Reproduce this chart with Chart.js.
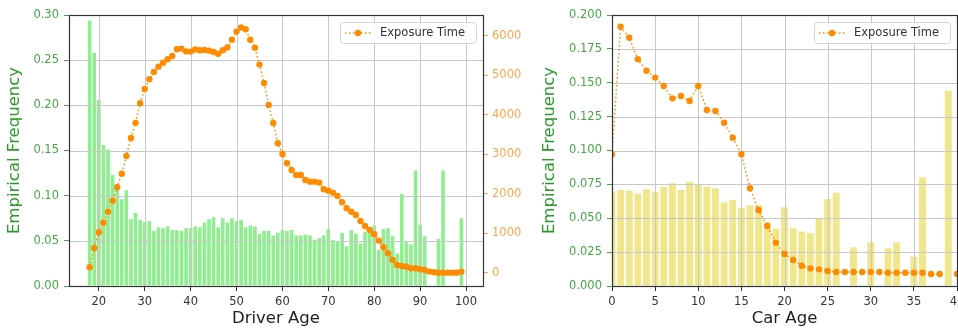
<!DOCTYPE html>
<html>
<head>
<meta charset="utf-8">
<script src="https://cdn.jsdelivr.net/npm/chart.js@4.4.1/dist/chart.umd.min.js"></script>
<style>
  html, body { margin: 0; padding: 0; background: #fff; }
  body { width: 958px; height: 329px; position: relative; overflow: hidden; }
  canvas { position: absolute; top: 0; }
  #driver { left: 0; }
  #car { left: 530px; }
</style>
</head>
<body>
<canvas id="driver" width="530" height="329"></canvas>
<canvas id="car" width="480" height="329"></canvas>
<script>
// Driver age: claim frequency (bars) and exposure time (dotted line, right axis)
const driverAges = [18, 19, 20, 21, 22, 23, 24, 25, 26, 27, 28, 29, 30, 31, 32, 33, 34, 35, 36, 37,
  38, 39, 40, 41, 42, 43, 44, 45, 46, 47, 48, 49, 50, 51, 52, 53, 54, 55, 56, 57,
  58, 59, 60, 61, 62, 63, 64, 65, 66, 67, 68, 69, 70, 71, 72, 73, 74, 75, 76, 77,
  78, 79, 80, 81, 82, 83, 84, 85, 86, 87, 88, 89, 90, 91, 92, 93, 94, 95, 96, 97, 98, 99];
const driverFreq = [0.294, 0.258, 0.206, 0.156, 0.151, 0.123, 0.113, 0.096, 0.106, 0.074,
  0.081, 0.073, 0.071, 0.072, 0.061, 0.065, 0.064, 0.066, 0.062, 0.062,
  0.061, 0.064, 0.064, 0.066, 0.065, 0.070, 0.074, 0.076, 0.065, 0.075,
  0.070, 0.075, 0.072, 0.073, 0.065, 0.067, 0.066, 0.058, 0.061, 0.061,
  0.056, 0.059, 0.062, 0.061, 0.062, 0.056, 0.056, 0.057, 0.056, 0.051,
  0.053, 0.056, 0.063, 0.051, 0.050, 0.059, 0.044, 0.062, 0.058, 0.047,
  0.060, 0.063, 0.067, 0.040, 0.063, 0.064, 0.055, 0.036, 0.102, 0.050,
  0.046, 0.128, 0.068, 0.055, 0, 0, 0.052, 0.128, 0, 0, 0, 0.075];
const driverExposure = [144, 633, 1030, 1273, 1552, 1830, 2170, 2514, 2962, 3418,
  3800, 4296, 4655, 4903, 5090, 5223, 5324, 5409, 5494, 5662,
  5680, 5610, 5603, 5655, 5637, 5646, 5628, 5595, 5548, 5637,
  5708, 5905, 6110, 6215, 6169, 5905, 5704, 5275, 4810, 4253,
  3798, 3283, 3013, 2776, 2608, 2481, 2481, 2354, 2312, 2312,
  2287, 2118, 2084, 2034, 1949, 1789, 1637, 1552, 1468, 1316,
  1190, 1089, 979, 819, 650, 498, 329, 203, 177, 160,
  118, 118, 93, 76, 34, 17, 8, 8, 8, 8, 8, 34];

// Car age: frequency (bars) and exposure curve
const carAges = [0, 1, 2, 3, 4, 5, 6, 7, 8, 9, 10, 11, 12, 13, 14, 15, 16, 17, 18, 19, 20,
  21, 22, 23, 24, 25, 26, 27, 28, 29, 30, 31, 32, 33, 34, 35, 36, 37, 38, 39, 40];
const carFreq = [0.0689, 0.0708, 0.0703, 0.0681, 0.0713, 0.0696, 0.0733, 0.0758, 0.0708, 0.0768,
  0.0750, 0.0733, 0.0721, 0.0617, 0.0635, 0.0576, 0.0596, 0.0595, 0.0470, 0.0423,
  0.0581, 0.0425, 0.0402, 0.0389, 0.0500, 0.0642, 0.0689, 0, 0.0285, 0,
  0.0323, 0, 0.0278, 0.0323, 0, 0.0216, 0.0802, 0, 0, 0.1441, 0];
const carExposure = [0.0972, 0.1914, 0.1833, 0.1673, 0.1589, 0.1538, 0.1476, 0.1385, 0.1402, 0.1365,
  0.1476, 0.1299, 0.1292, 0.1205, 0.1095, 0.0972, 0.0721, 0.0561, 0.0443, 0.0320,
  0.0236, 0.0192, 0.0150, 0.0130, 0.0123, 0.0111, 0.0103, 0.0103, 0.0103, 0.0103,
  0.0103, 0.0103, 0.0098, 0.0098, 0.0098, 0.0098, 0.0098, 0.0089, 0.0089, null, 0.0089];

// tick positions
const driverAgeTicks = [20, 30, 40, 50, 60, 70, 80, 90, 100];
const driverFreqTicks = [0, 0.05, 0.10, 0.15, 0.20, 0.25, 0.30];
const exposureTicks = [0, 1000, 2000, 3000, 4000, 5000, 6000];
const carAgeTicks = [0, 5, 10, 15, 20, 25, 30, 35, 40];
const carFreqTicks = [0, 0.025, 0.05, 0.075, 0.1, 0.125, 0.15, 0.175, 0.2];

const FONT = 'DejaVu Sans';
const GREEN_TICK = '#45a845';
const GREEN_LABEL = '#2a9a2a';
const ORANGE = '#ff8c00';
const ORANGE_TICK = '#ffa54f';

const xy = (xs, ys) => xs.map((x, i) => ({ x: x, y: ys[i] }));
const fixedTicks = list => scale => { scale.ticks = list.map(v => ({ value: v })); };

// grid goes over the bars but under the line, frame + legend on top
const frameGrid = {
  id: 'frameGrid',
  afterDatasetDraw(chart, args) {
    if (chart.data.datasets[args.index].type !== 'bar') return;
    const { ctx, chartArea: a, scales } = chart;
    ctx.save();
    ctx.beginPath();
    ctx.rect(a.left, a.top, a.width, a.height);
    ctx.clip();
    ctx.strokeStyle = '#c8c8c8';
    ctx.lineWidth = 1;
    ctx.beginPath();
    scales.x.ticks.forEach(t => {
      const px = Math.round(scales.x.getPixelForValue(t.value)) + 0.5;
      ctx.moveTo(px, a.top);
      ctx.lineTo(px, a.bottom);
    });
    scales.y.ticks.forEach(t => {
      const py = Math.round(scales.y.getPixelForValue(t.value)) + 0.5;
      ctx.moveTo(a.left, py);
      ctx.lineTo(a.right, py);
    });
    ctx.stroke();
    ctx.restore();
  },
  afterDraw(chart) {
    const { ctx, chartArea: a } = chart;
    ctx.save();
    ctx.strokeStyle = '#333';
    ctx.lineWidth = 1.2;
    ctx.strokeRect(a.left + 0.5, a.top + 0.5, a.width, a.height);

    // legend box for the line series
    const line = chart.data.datasets.find(d => d.type === 'line');
    const w = 136, h = 21;
    const bx = a.right - 7 - w, by = a.top + 7;
    ctx.fillStyle = 'rgba(255,255,255,0.85)';
    ctx.strokeStyle = '#d4d4d4';
    ctx.lineWidth = 1;
    ctx.beginPath();
    ctx.roundRect(bx + 0.5, by + 0.5, w, h, 3);
    ctx.fill();
    ctx.stroke();
    const ly = by + h / 2 + 0.5;
    ctx.strokeStyle = ORANGE;
    ctx.lineWidth = 1.5;
    ctx.setLineDash([1.5, 2.5]);
    ctx.beginPath();
    ctx.moveTo(bx + 5, ly);
    ctx.lineTo(bx + 33, ly);
    ctx.stroke();
    ctx.setLineDash([]);
    ctx.fillStyle = ORANGE;
    ctx.beginPath();
    ctx.arc(bx + 18, ly, 3.2, 0, Math.PI * 2);
    ctx.fill();
    ctx.fillStyle = '#333';
    ctx.font = '11.5px "' + FONT + '"';
    ctx.textBaseline = 'middle';
    ctx.fillText(line.label, bx + 40, ly);
    ctx.restore();
  }
};

const lineSet = (data, axis) => ({
  type: 'line',
  label: 'Exposure Time',
  data: data,
  yAxisID: axis,
  borderColor: ORANGE,
  backgroundColor: ORANGE,
  borderWidth: 1.5,
  borderDash: [1.5, 2.5],
  pointRadius: 3.2,
  pointBorderWidth: 0,
  spanGaps: false,
  clip: 0,
  order: 0
});

const barSet = (data, color) => ({
  type: 'bar',
  data: data,
  yAxisID: 'y',
  backgroundColor: color,
  barPercentage: 0.8,
  categoryPercentage: 1,
  order: 1
});

const xAxis = (min, max, ticks, title) => ({
  type: 'linear',
  min: min,
  max: max,
  offset: false,
  afterBuildTicks: fixedTicks(ticks),
  afterFit: s => { s.height = 43; },
  grid: { offset: false, drawOnChartArea: false, tickLength: 5, tickColor: '#333' },
  border: { display: false },
  ticks: { color: '#333', padding: 4, font: { family: FONT, size: 11.5 }, maxRotation: 0 },
  title: { display: true, text: title, color: '#222', font: { family: FONT, size: 16.5 }, padding: { top: 0, bottom: 0 } }
});

const freqAxis = (max, ticks, width, digits, pad) => ({
  position: 'left',
  min: 0,
  max: max,
  afterBuildTicks: fixedTicks(ticks),
  afterFit: s => { s.width = width; },
  grid: { drawOnChartArea: false, tickLength: 5, tickColor: GREEN_TICK },
  border: { display: false },
  ticks: { color: GREEN_TICK, padding: 5, font: { family: FONT, size: 11.5 }, callback: v => v.toFixed(digits) },
  title: { display: true, text: 'Empirical Frequency', color: GREEN_LABEL, font: { family: FONT, size: 16.5 }, padding: { top: pad, bottom: 0 } }
});

new Chart(document.getElementById('driver'), {
  type: 'bar',
  data: {
    datasets: [
      lineSet(xy(driverAges, driverExposure), 'y1'),
      barSet(xy(driverAges, driverFreq), '#90ee90')
    ]
  },
  options: {
    responsive: false,
    animation: false,
    layout: { autoPadding: false, padding: { top: 15, right: 0, bottom: 0, left: 0 } },
    plugins: { legend: { display: false }, tooltip: { enabled: false } },
    scales: {
      x: xAxis(13.5, 103.7, driverAgeTicks, 'Driver Age'),
      y: freqAxis(0.30, driverFreqTicks, 69, 2, 5),
      y1: {
        position: 'right',
        min: -330,
        max: 6530,
        afterBuildTicks: fixedTicks(exposureTicks),
        afterFit: s => { s.width = 47; },
        grid: { drawOnChartArea: false, tickLength: 5, tickColor: ORANGE_TICK },
        border: { display: false },
        ticks: { color: ORANGE_TICK, padding: 4, font: { family: FONT, size: 11.5 }, callback: v => String(v) }
      }
    }
  },
  plugins: [frameGrid]
});

// this canvas runs past the page edge; the plot's right side is cut like the page
new Chart(document.getElementById('car'), {
  type: 'bar',
  data: {
    datasets: [
      lineSet(xy(carAges, carExposure), 'y'),
      barSet(xy(carAges, carFreq), '#f0e68c')
    ]
  },
  options: {
    responsive: false,
    animation: false,
    layout: { autoPadding: false, padding: { top: 15, right: 53, bottom: 0, left: 0 } },
    plugins: { legend: { display: false }, tooltip: { enabled: false } },
    scales: {
      x: xAxis(0, 40, carAgeTicks, 'Car Age'),
      y: freqAxis(0.2, carFreqTicks, 82, 3, 10)
    }
  },
  plugins: [frameGrid]
});
</script>
</body>
</html>
